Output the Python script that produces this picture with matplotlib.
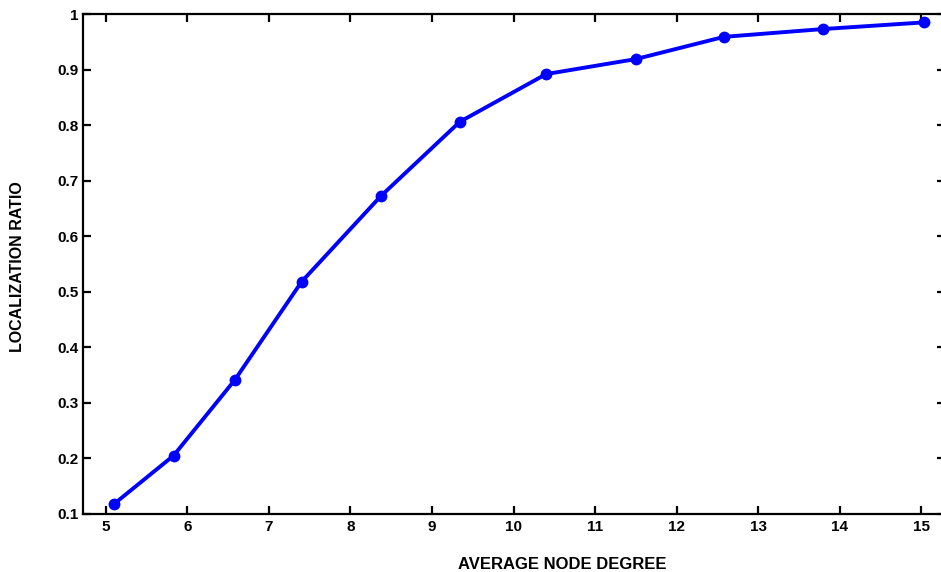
import matplotlib.pyplot as plt

# average node degree vs localization ratio
degree = [5.10, 5.83, 6.58, 7.40, 8.37, 9.34, 10.40, 11.50, 12.58, 13.79, 15.03]
ratio = [0.118, 0.205, 0.341, 0.518, 0.672, 0.806, 0.892, 0.919, 0.959, 0.973, 0.985]

xticks = list(range(5, 16))
yticks = [0.1, 0.2, 0.3, 0.4, 0.5, 0.6, 0.7, 0.8, 0.9, 1.0]
ytick_labels = ['0.1', '0.2', '0.3', '0.4', '0.5', '0.6', '0.7', '0.8', '0.9', '1']

plt.rcParams['font.family'] = ['Liberation Sans', 'DejaVu Sans']
plt.rcParams['font.weight'] = 'bold'

fig = plt.figure(figsize=(9.41, 5.72), dpi=100)
ax = fig.add_axes([0.0882, 0.1014, 0.916, 0.874])

ax.plot(degree, ratio, color='#0000ff', lw=2.8, marker='o', ms=7.5)

ax.set_xlim(4.72, 15.29)
ax.set_ylim(0.1, 1.0)
ax.set_xticks(xticks)
ax.set_yticks(yticks)
ax.set_yticklabels(ytick_labels)

for s in ax.spines.values():
    s.set_linewidth(1.6)
ax.tick_params(direction='in', length=6, width=1.6, top=True, right=True,
               labelsize=11)
ax.tick_params(axis='x', pad=4.5)
ax.tick_params(axis='y', pad=3)
for lab in ax.get_xticklabels() + ax.get_yticklabels():
    lab.set_fontweight('bold')

ax.set_xlabel('AVERAGE NODE DEGREE', fontsize=12, fontweight='bold')
ax.xaxis.set_label_coords(0.556, -0.086)
ax.set_ylabel('LOCALIZATION RATIO', fontsize=11.5, fontweight='bold')
ax.yaxis.set_label_coords(-0.067, 0.495)

fig.savefig('out.png', dpi=100)
